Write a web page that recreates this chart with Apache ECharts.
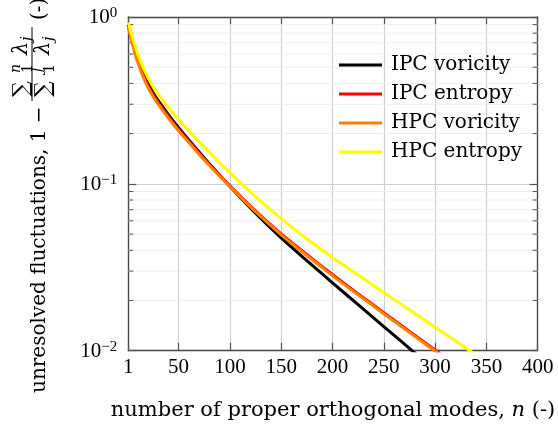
<!DOCTYPE html>
<html>
<head>
<meta charset="utf-8">
<script src="https://cdn.jsdelivr.net/npm/echarts@6/dist/echarts.min.js"></script>
<style>
html,body{margin:0;padding:0;background:#fff;}
#c{width:558px;height:432px;}
</style>
</head>
<body>
<div id="c"></div>
<script>
// ---- data ----
const modes = [1, 3, 5, 8, 10, 15, 20, 25, 30, 40, 50, 60, 75, 100, 125, 150, 175, 200, 225, 250, 275, 300, 325, 350];
const ipcVorticity = [0.900, 0.798, 0.714, 0.617, 0.565, 0.468, 0.401, 0.353, 0.316, 0.260, 0.217, 0.183, 0.143, 0.0966, 0.0668, 0.0475, 0.0347, 0.0255, 0.0189, 0.01396, 0.01033, 0.00764, 0.00565, 0.00418];
const ipcEntropy   = [0.889, 0.787, 0.705, 0.607, 0.555, 0.457, 0.391, 0.344, 0.308, 0.254, 0.212, 0.180, 0.141, 0.0973, 0.0689, 0.0501, 0.0377, 0.0286, 0.0219, 0.0169, 0.01306, 0.0101, 0.0078, 0.0060];
const hpcVorticity = [0.879, 0.773, 0.689, 0.590, 0.540, 0.445, 0.380, 0.335, 0.301, 0.248, 0.208, 0.177, 0.139, 0.0962, 0.0681, 0.0495, 0.0372, 0.0282, 0.0216, 0.01667, 0.01288, 0.00995, 0.0077, 0.0059];
const hpcEntropy   = [0.929, 0.836, 0.757, 0.661, 0.608, 0.505, 0.435, 0.385, 0.346, 0.287, 0.243, 0.208, 0.166, 0.1167, 0.0839, 0.0619, 0.0469, 0.0362, 0.0284, 0.0223, 0.0176, 0.01384, 0.01089, 0.00857];
const seriesNames = ['IPC voricity', 'IPC entropy', 'HPC voricity', 'HPC entropy'];
const seriesColors = ['#000000', '#ff0000', '#ff7f00', '#ffff00'];
const xTicks = [1, 50, 100, 150, 200, 250, 300, 350, 400];
const yMinorTicks = [0.02, 0.03, 0.04, 0.05, 0.06, 0.07, 0.08, 0.09, 0.2, 0.3, 0.4, 0.5, 0.6, 0.7, 0.8, 0.9];
const xName = 'number of proper orthogonal modes, {i|n} (-)';
const yNameMain = 'unresolved fluctuations, 1 \u2212';

const allValues = [ipcVorticity, ipcEntropy, hpcVorticity, hpcEntropy];
const numFont = 'Liberation Serif';
const txtFont = 'DejaVu Serif';
const frame = '#444444';
const tickCol = '#555555';

const chart = echarts.init(document.getElementById('c'), null, {renderer: 'canvas'});

const lineSeries = seriesNames.map((nm, k) => ({
  name: nm,
  type: 'line',
  data: modes.map((m, i) => [m, allValues[k][i]]),
  showSymbol: false,
  smooth: 0.3,
  color: seriesColors[k],
  lineStyle: {width: 3, color: seriesColors[k]},
  itemStyle: {color: seriesColors[k]},
  z: 3 + k,
  clip: true,
  silent: true
}));

const minorSeries = {
  type: 'custom',
  silent: true,
  z: 1,
  data: yMinorTicks.map(v => [1, v]),
  renderItem: function (params, api) {
    const p = api.coord([1, api.value(1)]);
    const cs = params.coordSys;
    const y = p[1];
    return {
      type: 'group',
      children: [
        {type: 'line', shape: {x1: cs.x, y1: y, x2: cs.x + cs.width, y2: y}, style: {stroke: '#eeeeee', lineWidth: 1}},
        {type: 'line', shape: {x1: cs.x, y1: y, x2: cs.x + 5, y2: y}, style: {stroke: tickCol, lineWidth: 1}},
        {type: 'line', shape: {x1: cs.x + cs.width - 5, y1: y, x2: cs.x + cs.width, y2: y}, style: {stroke: tickCol, lineWidth: 1}}
      ]
    };
  }
};

function yLabel(v) {
  const e = Math.round(Math.log10(v));
  return '{b|10}{s|' + (e < 0 ? '\u2212' + (-e) : String(e)) + '}';
}

function t(txt, x, y, font) {
  return {type: 'text', x: x, y: y, style: {text: txt, font: font, fill: '#000', textAlign: 'left', textVerticalAlign: 'middle'}};
}

const option = {
  backgroundColor: '#ffffff',
  animation: false,
  grid: {left: 128.3, right: 20.3, top: 17, bottom: 81.3, containLabel: false, outerBoundsMode: 'none'},
  legend: {
    orient: 'vertical',
    left: 339, top: 55, padding: 0,
    icon: 'rect', itemWidth: 43, itemHeight: 3, itemGap: 9,
    data: seriesNames,
    textStyle: {fontFamily: txtFont, fontSize: 20, color: '#000', lineHeight: 20, padding: [0, 0, 0, 4]},
    backgroundColor: 'transparent', borderWidth: 0
  },
  xAxis: [{
    type: 'value', min: 1, max: 400, position: 'bottom',
    name: xName, nameLocation: 'middle', nameGap: 49,
    nameTextStyle: {fontFamily: txtFont, fontSize: 21, color: '#000', rich: {i: {fontStyle: 'italic', fontFamily: txtFont, fontSize: 21, color: '#000'}}},
    axisLine: {show: true, onZero: false, lineStyle: {color: frame, width: 1.3}},
    axisTick: {show: true, inside: true, length: 8, customValues: xTicks, lineStyle: {color: tickCol, width: 1.2}},
    axisLabel: {show: true, customValues: xTicks, margin: 6, fontFamily: numFont, fontSize: 21, color: '#000'},
    splitLine: {show: true, lineStyle: {color: '#d0d0d0', width: 1.2}}
  }, {
    type: 'value', min: 1, max: 400, position: 'top',
    axisLine: {show: true, onZero: false, lineStyle: {color: frame, width: 1.3}},
    axisTick: {show: true, inside: true, length: 8, customValues: xTicks, lineStyle: {color: tickCol, width: 1.2}},
    axisLabel: {show: false},
    splitLine: {show: false}
  }],
  yAxis: [{
    type: 'log', logBase: 10, min: 0.01, max: 1, position: 'left',
    axisLine: {show: true, onZero: false, lineStyle: {color: frame, width: 1.3}},
    axisTick: {show: true, inside: true, length: 8, lineStyle: {color: tickCol, width: 1.2}},
    axisLabel: {
      show: true, margin: 11, formatter: yLabel,
      rich: {
        b: {fontFamily: numFont, fontSize: 21, color: '#000', lineHeight: 22, verticalAlign: 'bottom'},
        s: {fontFamily: numFont, fontSize: 15, color: '#000', lineHeight: 14, verticalAlign: 'top'}
      }
    },
    splitLine: {show: true, lineStyle: {color: '#d0d0d0', width: 1.2}}
  }, {
    type: 'log', logBase: 10, min: 0.01, max: 1, position: 'right',
    axisLine: {show: true, onZero: false, lineStyle: {color: frame, width: 1.3}},
    axisTick: {show: true, inside: true, length: 8, lineStyle: {color: tickCol, width: 1.2}},
    axisLabel: {show: false},
    splitLine: {show: false}
  }],
  series: [minorSeries].concat(lineSeries),
  graphic: [{
    type: 'group', x: 40, y: 393, rotation: Math.PI / 2, silent: true,
    children: [
      t(yNameMain, 0, 0, '20px "DejaVu Serif"'),
      // numerator
      t('\u2211', 296, -18, '22px "DejaVu Serif"'),
      t('n', 320, -24, 'italic 14px "DejaVu Serif"'),
      t('1', 320, -12, '14px "DejaVu Serif"'),
      t('\u03bb', 338, -18, 'italic 21px "DejaVu Serif"'),
      t('j', 352, -13, 'italic 14px "DejaVu Serif"'),
      // bar
      {type: 'line', shape: {x1: 292, y1: -8, x2: 366, y2: -8}, style: {stroke: '#000', lineWidth: 1}},
      // denominator
      t('\u2211', 296, 4, '22px "DejaVu Serif"'),
      t('J', 320, -2, 'italic 14px "DejaVu Serif"'),
      t('1', 320, 10, '14px "DejaVu Serif"'),
      t('\u03bb', 338, 4, 'italic 21px "DejaVu Serif"'),
      t('j', 352, 9, 'italic 14px "DejaVu Serif"'),
      // unit
      t('(-)', 373, 0, '20px "DejaVu Serif"')
    ]
  }]
};
chart.setOption(option);
</script>
</body>
</html>
